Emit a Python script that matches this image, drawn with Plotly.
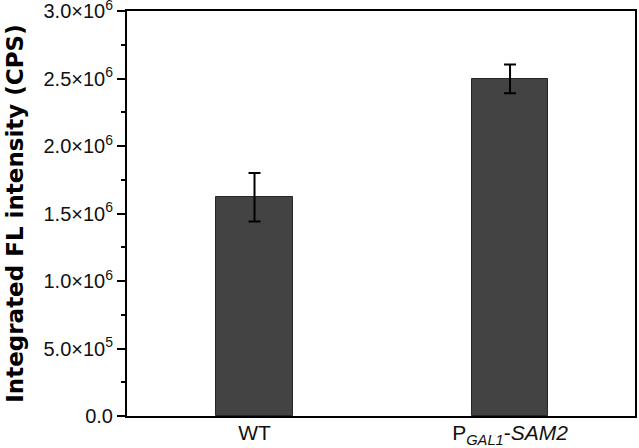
import plotly.graph_objects as go

categories = ["WT", "P<sub><i>GAL1</i></sub>-<i>SAM2</i>"]
values = [1.62e6, 2.497e6]
errors = [0.18e6, 0.106e6]
tick_vals = [0, 0.5e6, 1.0e6, 1.5e6, 2.0e6, 2.5e6, 3.0e6]
tick_text = ["0.0", "5.0×10<sup>5</sup>", "1.0×10<sup>6</sup>", "1.5×10<sup>6</sup>",
             "2.0×10<sup>6</sup>", "2.5×10<sup>6</sup>", "3.0×10<sup>6</sup>"]
y_title = "Integrated FL intensity (CPS)"

fig = go.Figure()
fig.add_trace(go.Bar(
    x=[0, 1], y=values, width=0.30,
    marker=dict(color="#434343", line=dict(color="#262626", width=1)),
    error_y=dict(type="data", array=errors, visible=True, color="black", thickness=2, width=6),
    hoverinfo="skip",
))

fig.update_layout(
    width=639, height=448,
    margin=dict(l=127, r=4, t=11, b=32, autoexpand=False),
    paper_bgcolor="white", plot_bgcolor="white",
    font=dict(family="Liberation Sans, Arial, sans-serif", color="black"),
    showlegend=False,
    bargap=0,
)
fig.update_xaxes(
    range=[-0.499, 1.489], tickvals=[0, 1], ticktext=categories,
    tickfont=dict(size=21, color="#111111"), showline=True, linecolor="black", linewidth=2,
    mirror=True, ticks="", showgrid=False, zeroline=False, automargin=False,
    ticklabelstandoff=-3,
)
fig.update_yaxes(
    range=[0, 3.0e6], tickvals=tick_vals, ticktext=tick_text,
    tickfont=dict(size=20, color="#111111"), showline=True, linecolor="black", linewidth=2,
    mirror=True, ticks="outside", ticklen=8, tickwidth=1.5, tickcolor="black",
    minor=dict(dtick=0.25e6, ticks="outside", ticklen=4, tickwidth=1.5, tickcolor="black", showgrid=False),
    showgrid=False, zeroline=False, automargin=False, ticklabeloverflow="allow",
)
fig.add_annotation(
    text="<b>" + y_title + "</b>", xref="paper", yref="paper",
    x=-0.222, y=0.5, xanchor="center", yanchor="middle", textangle=-90,
    showarrow=False, font=dict(family="DejaVu Sans, sans-serif", size=23, color="black"),
)

fig.write_html("out.html", config={"displayModeBar": False},
               post_script="document.body.style.margin='0';")
